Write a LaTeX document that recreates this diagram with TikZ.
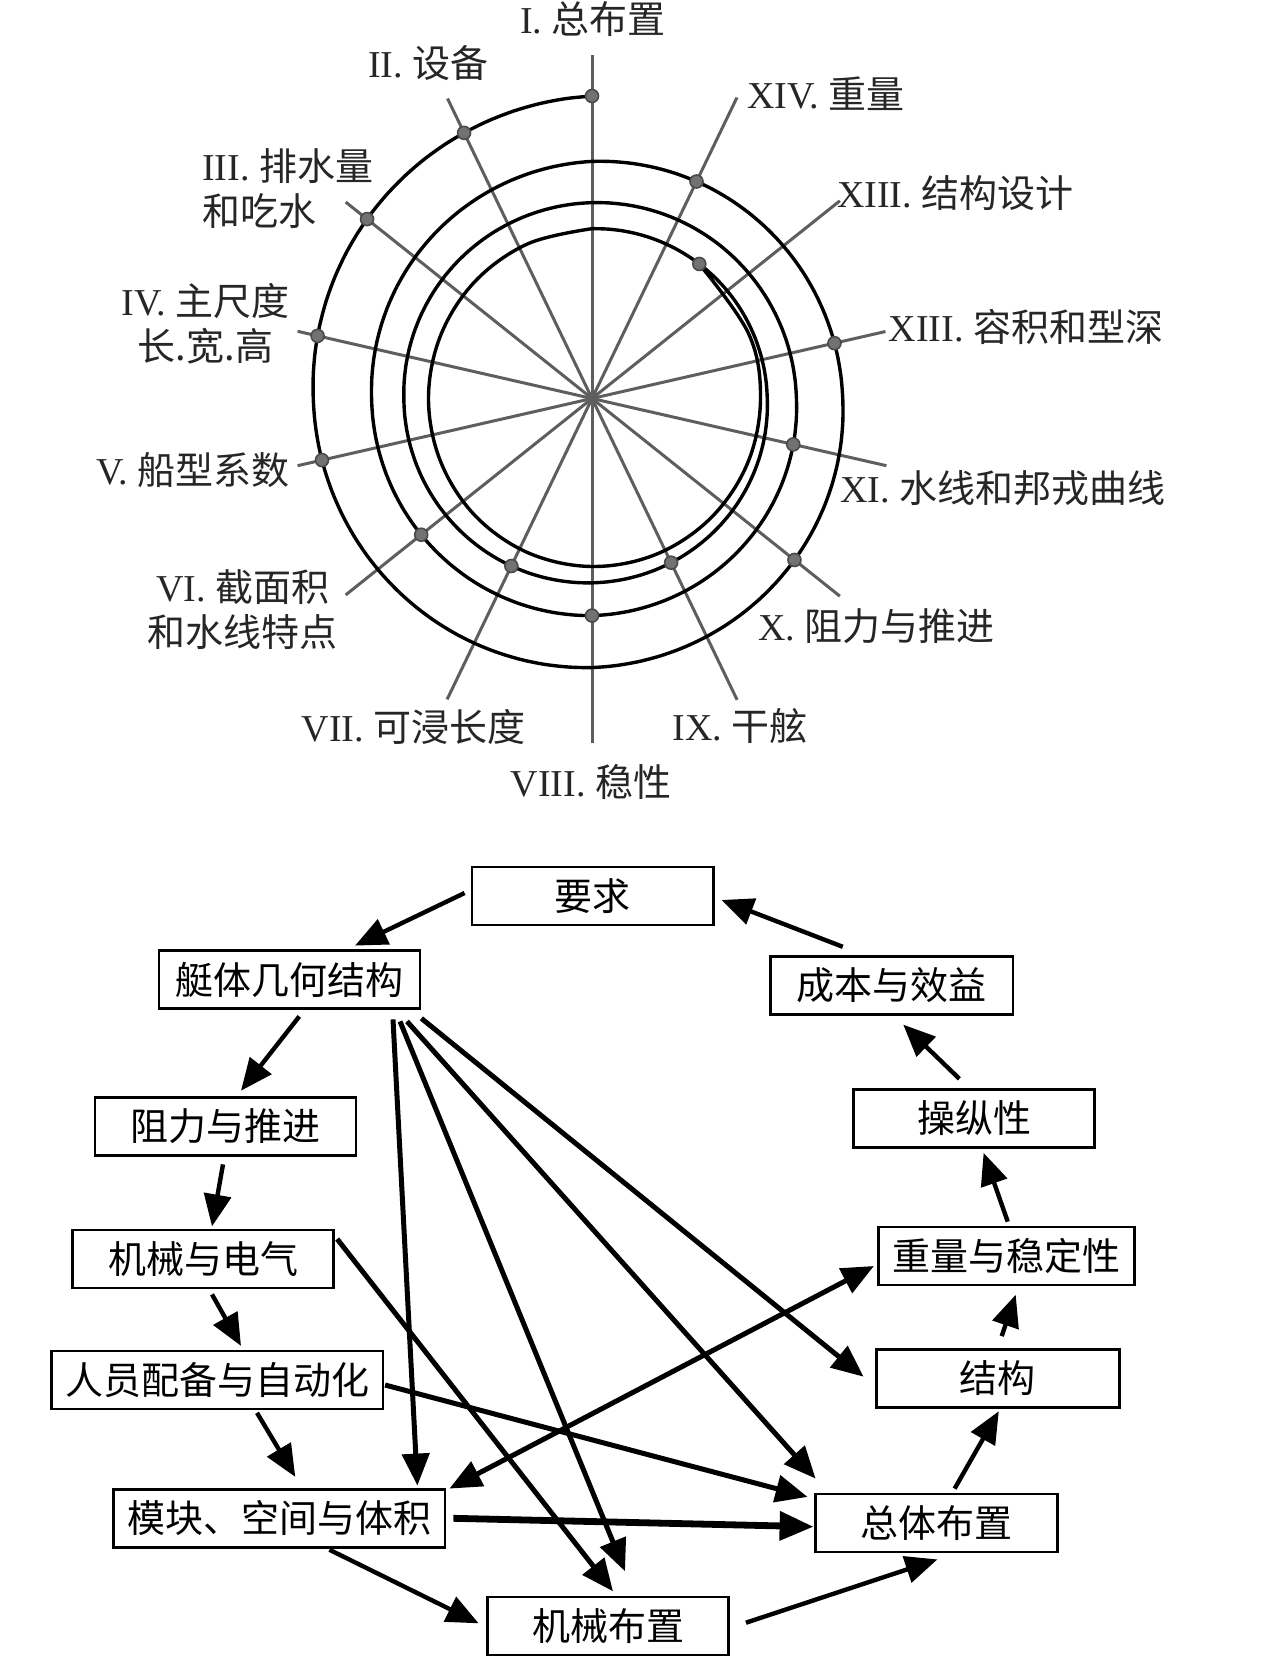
\documentclass[tikz,border=0pt]{standalone}
\usepackage{fontspec}
\setmainfont{Liberation Serif}
\newfontfamily\cjk{Noto Sans CJK SC}
\usetikzlibrary{arrows.meta,calc}
\definecolor{spokegray}{HTML}{5E5E5E}
\definecolor{dotgray}{HTML}{727272}
\definecolor{dotedge}{HTML}{4A4A4A}
\definecolor{labelgray}{HTML}{262626}
\newcommand{\zhs}[1]{{\cjk #1}}
\begin{document}
\begin{tikzpicture}[x=0.5pt,y=-0.5pt,
  declare function={sr(\t)=125.5+177*exp(-0.001283*\t)-4.5*max(0,sin(\t))*(\t<720)+3*max(0,-cos(\t));},
  spoke/.style={draw=spokegray, line width=1.5pt},
  spiralline/.style={draw=black, line width=1.7pt, line join=round},
  dot/.style={circle, fill=dotgray, draw=dotedge, line width=0.8pt, minimum size=6.5pt, inner sep=0pt},
  lbl/.style={font=\fontsize{19pt}{22.5pt}\selectfont, inner sep=0pt, text=labelgray},
  box/.style={draw, line width=1.4pt, inner sep=0pt, minimum height=29pt, font=\fontsize{19pt}{22pt}\selectfont\cjk},
  arr/.style={line width=2.2pt, -{Triangle[length=16pt,width=13.5pt]}},
  fan/.style={line width=2.5pt, -{Triangle[length=16pt,width=13.5pt]}},
  thickarr/.style={line width=3.4pt, -{Triangle[length=17pt,width=14pt]}},
  dblarr/.style={line width=2.5pt, {Triangle[length=16pt,width=13.5pt]}-{Triangle[length=16pt,width=13.5pt]}}
]
\useasboundingbox (0,0) rectangle (1260,1657);
\fill[white] (0,0) rectangle (1260,1657);

% ---------------- spiral diagram ----------------
\coordinate (C) at (592,398.5);
\foreach \k/\len in {0/343.5,1/333,2/315,3/302,4/302,5/315,6/334,7/344.5,8/334.5,9/317,10/302,11/301,12/317,13/334}{
  \draw[spoke] (C) -- ++({-90-\k*360/14}:\len);
}
\fill[spokegray] (C) circle (3pt);

\begin{scope}[shift={(C)}]
\draw[spiralline] plot[smooth, domain=0:1080, samples=217, variable=\t] ({-90-\t}:{sr(\t)})
  -- plot[smooth, tension=0.6] coordinates {
 (-1170:169.8) (-1192.5:167.5) (-1215:165.5) (-1237.5:164) (-1260:163.5) (-1282.5:164)
 (-1305:165.5) (-1327.5:167) (-1350:168) (-1372.5:168.5) (-1395:168.5) (-1417.5:168.5)
 (-1440:168.5) (-1462.5:169.5) (-1491.43:172)};
\foreach \nm/\t in {I/0, II/25.714, III/51.429, IV/77.143, V/102.857, X/231.429,
                    XIIIa/282.857, XIV/334.286, VI/488.571, VIII/540, XI/617.143,
                    VII/874.286, IX/925.714, XIIIb/1041.429}{
  \node[dot] (d\nm) at ({-90-\t}:{sr(\t)}) {};
}
\end{scope}

% labels
\node[lbl] (lI) at (593,19) {I. \zhs{总布置}};
\node[lbl, anchor=east] (lII) at (489,63) {II. \zhs{设备}};
\node[lbl, anchor=west, align=left] (lIII) at (201.7,189) {III. \zhs{排水量}\\\zhs{和吃水}};
\node[lbl, anchor=east, align=center] (lIV) at (290,324) {IV. \zhs{主尺度}\\\zhs{长.宽.高}};
\node[lbl, anchor=east] (lV) at (290,470) {V. \zhs{船型系数}};
\node[lbl, anchor=east, align=center] (lVI) at (338.3,610) {VI. \zhs{截面积}\\\zhs{和水线特点}};
\node[lbl] (lVII) at (413.5,727) {VII. \zhs{可浸长度}};
\node[lbl] (lVIII) at (591,782) {VIII. \zhs{稳性}};
\node[lbl] (lIX) at (740,726) {IX. \zhs{干舷}};
\node[lbl, anchor=west] (lX) at (758,626) {X. \zhs{阻力与推进}};
\node[lbl, anchor=west] (lXI) at (840,488) {XI. \zhs{水线和邦戎曲线}};
\node[lbl, anchor=west] (lXIIIa) at (888.3,326.7) {XIII. \zhs{容积和型深}};
\node[lbl, anchor=west] (lXIIIb) at (836.7,193.3) {XIII. \zhs{结构设计}};
\node[lbl, anchor=west] (lXIV) at (746.7,93.3) {XIV. \zhs{重量}};

% ---------------- flow diagram ----------------
\node[box, minimum width=120.75pt] (req)    at (592.75,896)  {要求};
\node[box, minimum width=130.5pt]  (hull)   at (289.5,979.5) {艇体几何结构};
\node[box, minimum width=130.5pt]  (resist) at (225.5,1126.4) {阻力与推进};
\node[box, minimum width=130.25pt] (mech)   at (203,1259)    {机械与电气};
\node[box, minimum width=165.8pt]  (crew)   at (217.2,1380)  {人员配备与自动化};
\node[box, minimum width=165.6pt]  (mod)    at (279.4,1518.3) {模块、空间与体积};
\node[box, minimum width=120.5pt]  (mlay)   at (608,1626)    {机械布置};
\node[box, minimum width=121pt]    (gen)    at (936.8,1523)  {总体布置};
\node[box, minimum width=121.4pt]  (struct) at (997.7,1378.5) {结构};
\node[box, minimum width=128pt]    (wst)    at (1006.3,1256) {重量与稳定性};
\node[box, minimum width=120.7pt]  (man)    at (974.1,1118.5) {操纵性};
\node[box, minimum width=121.2pt]  (cost)   at (891.8,985.2) {成本与效益};

\draw[arr] ($(req.west)+(-6,-3)$) -- ($(hull.north)+(65.5,-3.5)$);
\draw[arr] ($(cost.north)+(-49,-8)$) -- ($(req.east)+(6.5,4)$);
\draw[arr] ($(man.north)+(-14.7,-9.3)$) -- ($(cost.south)+(11.4,9)$);
\draw[arr] ($(wst.north)+(1.4,-4)$) -- ($(man.south)+(9.5,4)$);
\draw[arr] ($(struct.north)+(4,-12)$) -- ($(wst.south)+(9.4,8.3)$);
\draw[arr] ($(gen.north)+(17.8,-4)$) -- ($(struct.south)+(1.1,2.3)$);
\draw[arr] ($(mlay.east)+(16,-3.3)$) -- ($(gen.south)+(0.6,6)$);
\draw[arr] ($(mod.south)+(50,1)$) -- ($(mlay.west)+(-7.5,-2.7)$);
\draw[thickarr] ($(mod.east)+(7,0)$) -- ($(gen.west)+(-0.8,3.7)$);
\draw[fan] ($(crew.east)+(0.7,5)$) -- ($(gen.north west)+(-6.8,4.3)$);
\draw[arr] ($(crew.south)+(39.8,2.4)$) -- ($(mod.north)+(15.9,-11)$);
\draw[arr] ($(mech.south)+(9,5)$) -- ($(crew.north)+(23.8,-3.7)$);
\draw[arr] ($(resist.south)+(-2.5,7.6)$) -- ($(mech.north)+(9,-2.2)$);
\draw[arr] ($(hull.south)+(9.8,6.5)$) -- ($(resist.north)+(15.5,-5.3)$);
\draw[fan] ($(mech.east)+(2.5,-20)$) -- ($(mlay.north)+(5,-4.3)$);
\draw[fan] ($(hull.south)+(103.5,9.5)$) -- ($(mod.north east)+(-29,-2.3)$);
\draw[fan] ($(hull.south)+(110.5,11.5)$) -- ($(mlay.north)+(17,-24.3)$);
\draw[fan] ($(hull.south)+(117.5,11.5)$) -- ($(gen.north west)+(1.2,-14)$);
\draw[fan] ($(hull.south east)+(0,8.5)$) -- ($(struct.west)+(-11.3,-1.8)$);
\draw[dblarr] ($(mod.north east)+(3,0.7)$) -- ($(wst.west)+(-3,10)$);
\end{tikzpicture}
\end{document}
